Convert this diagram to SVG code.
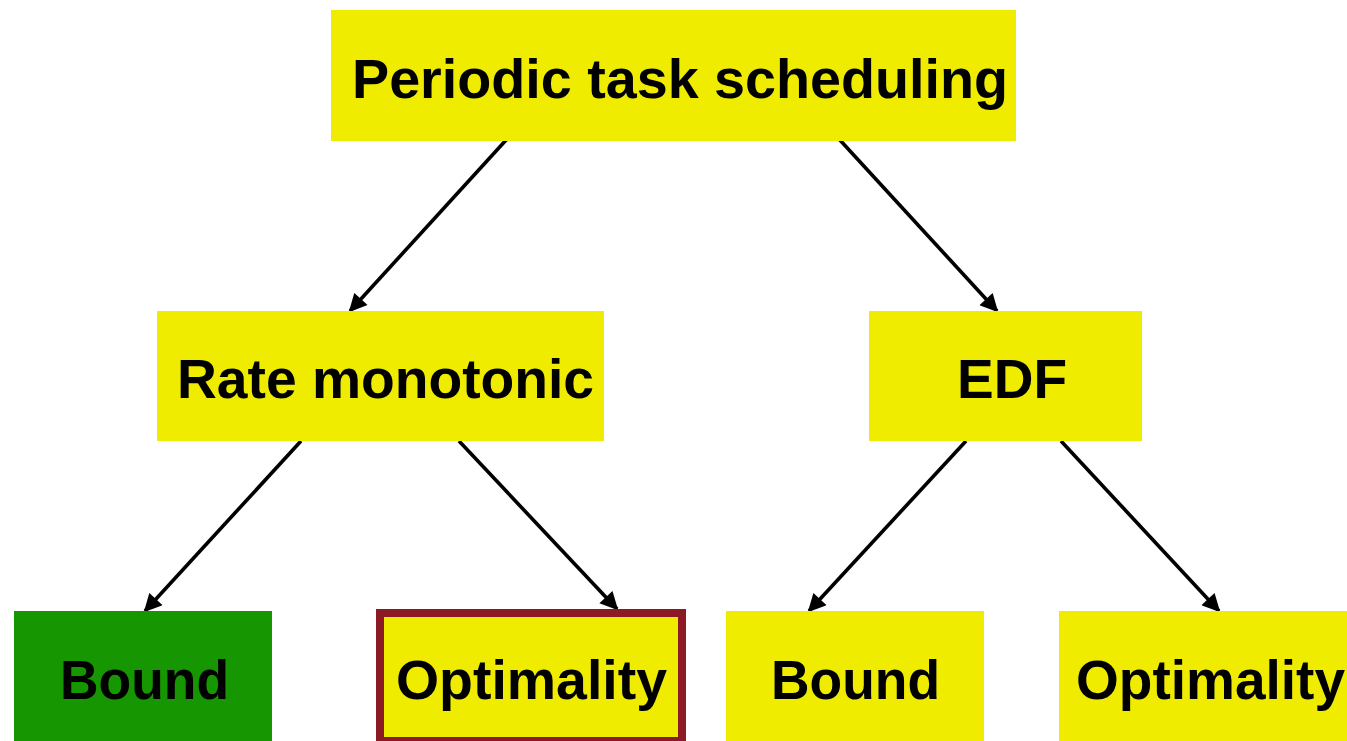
<svg xmlns="http://www.w3.org/2000/svg" width="1347" height="741" viewBox="0 0 1347 741">
  <style>
    .box { fill: #F0EC00; }
    .label { font-family: "Liberation Sans", Arial, sans-serif; font-weight: bold; font-size: 55px; fill: #000; text-anchor: middle; }
    .edge { stroke: #000; stroke-width: 3.6; fill: none; marker-end: url(#arrow); }
  </style>
  <defs>
    <marker id="arrow" viewBox="0 0 10 10" refX="9" refY="5" markerWidth="5.5" markerHeight="5" orient="auto" markerUnits="strokeWidth">
      <path d="M0,0 L10,5 L0,10 z" fill="#000"/>
    </marker>
  </defs>
  <rect width="1347" height="741" fill="#fff"/>

  <g id="connectors">
    <line class="edge" x1="507" y1="139" x2="350" y2="311"/>
    <line class="edge" x1="839" y1="139" x2="997" y2="311"/>
    <line class="edge" x1="301" y1="441" x2="145" y2="611"/>
    <line class="edge" x1="459" y1="441" x2="617" y2="609"/>
    <line class="edge" x1="966" y1="441" x2="809" y2="611"/>
    <line class="edge" x1="1061" y1="441" x2="1219" y2="611"/>
  </g>

  <g id="periodic">
    <rect class="box" x="331" y="10" width="685" height="131"/>
    <text class="label" x="680" y="98" textLength="656" lengthAdjust="spacingAndGlyphs">Periodic task scheduling</text>
  </g>
  <g id="rate-monotonic">
    <rect class="box" x="157" y="311" width="447" height="130"/>
    <text class="label" x="385.5" y="398" textLength="417" lengthAdjust="spacingAndGlyphs">Rate monotonic</text>
  </g>
  <g id="edf">
    <rect class="box" x="869" y="311" width="273" height="130"/>
    <text class="label" x="1012" y="398">EDF</text>
  </g>
  <g id="rm-bound">
    <rect x="14" y="611" width="258" height="130" fill="#169600"/>
    <text class="label" x="144.5" y="699" textLength="169" lengthAdjust="spacingAndGlyphs">Bound</text>
  </g>
  <g id="rm-optimality">
    <rect class="box" x="380" y="613" width="302" height="128" stroke="#8B1A24" stroke-width="8"/>
    <text class="label" x="531.5" y="699" textLength="271" lengthAdjust="spacingAndGlyphs">Optimality</text>
  </g>
  <g id="edf-bound">
    <rect class="box" x="726" y="611" width="258" height="130"/>
    <text class="label" x="855.5" y="699" textLength="169" lengthAdjust="spacingAndGlyphs">Bound</text>
  </g>
  <g id="edf-optimality">
    <rect class="box" x="1059" y="611" width="300" height="130"/>
    <text class="label" x="1210.5" y="699" textLength="269" lengthAdjust="spacingAndGlyphs">Optimality</text>
  </g>
</svg>
